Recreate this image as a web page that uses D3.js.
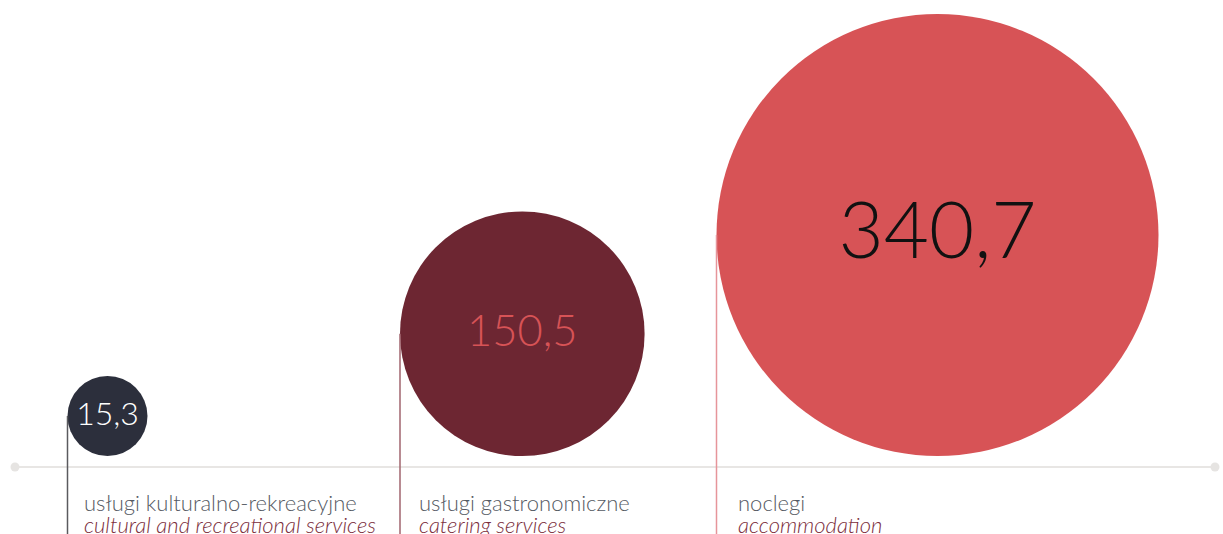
<!DOCTYPE html>
<html>
<head>
<meta charset="utf-8">
<script src="https://cdn.jsdelivr.net/npm/d3@7"></script>
<style>
    body { margin: 0; background: #fff; }
    svg { display: block; font-family: Lato, sans-serif; }
</style>
</head>
<body>
<div id="chart"></div>
<script>
// data
let categories = ["culture", "catering", "accommodation"];
let values = [15.3, 150.5, 340.7];
let labelsPl = ["usługi kulturalno-rekreacyjne", "usługi gastronomiczne", "noclegi"];
let labelsEn = ["cultural and recreational services", "catering services", "accommodation"];

let width = 1223, height = 534;
let baseline = 467;

let svg = d3.select("#chart").append("svg")
    .attr("width", width)
    .attr("height", height);

// column left edges
let x = d3.scaleOrdinal()
    .domain(categories)
    .range([67.5, 400, 716.5]);

// label offset from the stem
let labelOffset = d3.scaleOrdinal()
    .domain(categories)
    .range([16.5, 19, 21.5]);

// radius scale (piecewise, as in the original graphic)
let r = d3.scaleLinear()
    .domain(values)
    .range([40, 122.3, 221]);

let fill = d3.scaleOrdinal().domain(categories).range(["#2c2f3c", "#6d2632", "#d75356"]);
let textColor = d3.scaleOrdinal().domain(categories).range(["#ffffff", "#d75356", "#111111"]);
let stemColor = d3.scaleOrdinal().domain(categories).range(["#5a5a5e", "#a0646e", "#e6959a"]);
let fontSize = d3.scaleOrdinal().domain(categories).range([32, 43.5, 78]);

let fmt = v => d3.format(".1f")(v).replace(".", ",");

// baseline with end dots
svg.append("line")
    .attr("x1", 15).attr("x2", 1215)
    .attr("y1", baseline).attr("y2", baseline)
    .attr("stroke", "#e8e6e4")
    .attr("stroke-width", 2);

svg.selectAll(".dot")
    .data([15, 1215])
    .enter().append("circle")
    .attr("class", "dot")
    .attr("cx", d => d)
    .attr("cy", baseline)
    .attr("r", 4.5)
    .attr("fill", "#e6e4e2");

let data = categories.map((c, i) => ({ key: c, value: values[i], pl: labelsPl[i], en: labelsEn[i] }));

let g = svg.selectAll(".item")
    .data(data)
    .enter().append("g")
    .attr("class", "item");

// circles sit on a line just above the baseline
let bottom = 456;

g.append("circle")
    .attr("cx", d => x(d.key) + r(d.value))
    .attr("cy", d => bottom - r(d.value))
    .attr("r", d => r(d.value))
    .attr("fill", d => fill(d.key));

// stems from circle centre height down
g.append("line")
    .attr("x1", d => x(d.key))
    .attr("x2", d => x(d.key))
    .attr("y1", d => bottom - r(d.value))
    .attr("y2", height)
    .attr("stroke", d => stemColor(d.key))
    .attr("stroke-width", 1.5);

g.append("text")
    .attr("x", d => x(d.key) + r(d.value))
    .attr("y", d => bottom - r(d.value))
    .attr("dy", "0.29em")
    .attr("text-anchor", "middle")
    .attr("font-weight", 300)
    .attr("font-size", d => fontSize(d.key))
    .attr("fill", d => textColor(d.key))
    .text(d => fmt(d.value));

g.append("text")
    .attr("x", d => x(d.key) + labelOffset(d.key))
    .attr("y", 511)
    .attr("font-weight", 300)
    .attr("font-size", 22)
    .attr("fill", "#555a63")
    .text(d => d.pl);

g.append("text")
    .attr("x", d => x(d.key) + labelOffset(d.key))
    .attr("y", 533)
    .attr("font-weight", 300)
    .attr("font-style", "italic")
    .attr("font-size", 22)
    .attr("fill", "#7b2d3b")
    .text(d => d.en);
</script>
</body>
</html>
